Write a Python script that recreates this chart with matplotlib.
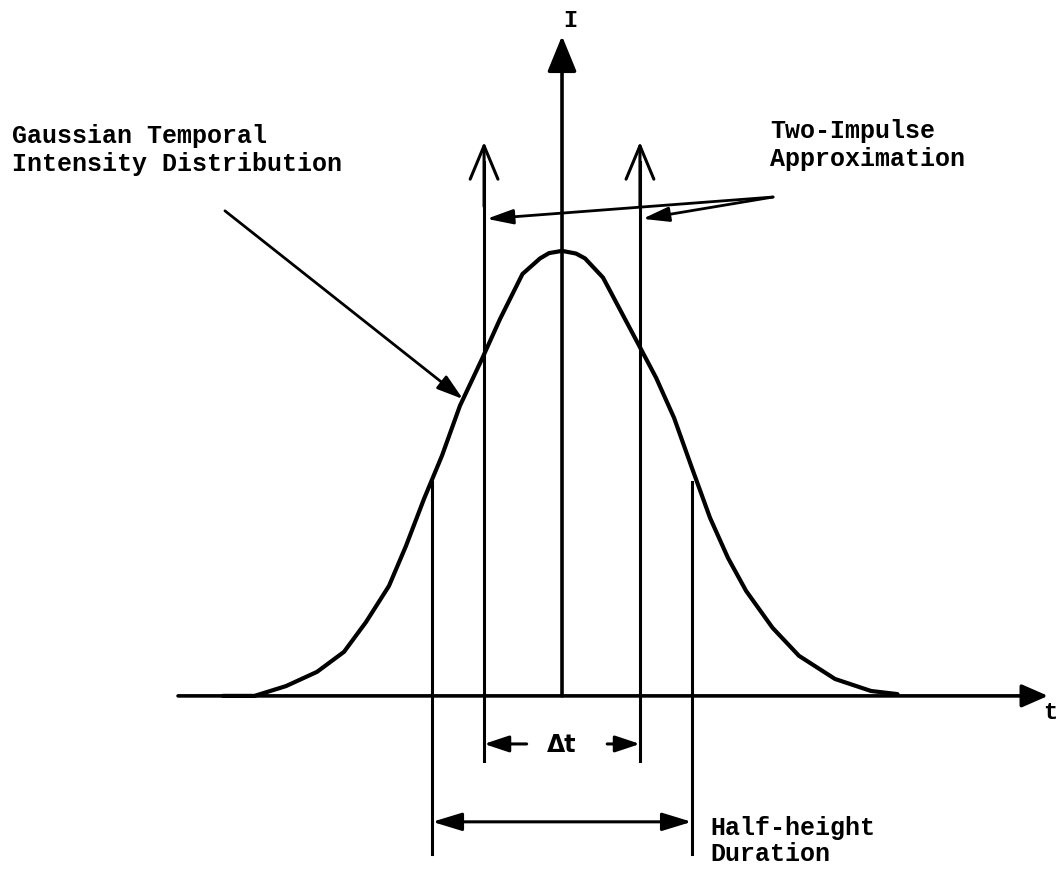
"""
Gaussian pulse and its two-impulse approximation (schematic)
"""
import matplotlib.pyplot as plt

# intensity curve: t in half-height units, I relative to peak
t_curve = [-2.59, -2.347, -2.107, -1.870, -1.664, -1.496, -1.321, -1.191,
           -1.053, -0.916, -0.779, -0.611, -0.473, -0.302, -0.168, -0.099,
           0.0, 0.107, 0.176, 0.313, 0.585, 0.718, 0.855, 0.992, 1.130,
           1.267, 1.405, 1.607, 1.809, 2.084, 2.359, 2.561]
i_curve = [0.0, 0.0, 0.022, 0.054, 0.099, 0.166, 0.247, 0.337,
           0.443, 0.540, 0.652, 0.757, 0.847, 0.948, 0.983, 0.995,
           1.0, 0.994, 0.983, 0.940, 0.789, 0.715, 0.625, 0.512, 0.400,
           0.310, 0.236, 0.153, 0.090, 0.038, 0.011, 0.004]

t_impulse = [-0.595, 0.595]  # the two impulses
t_half = [-0.99, 0.99]       # half-height points
i_half = 0.48

FONT = ["Liberation Mono", "DejaVu Sans Mono"]


def arrow(ax, start, end, style, lw=2.2):
    ax.annotate("", xy=end, xytext=start,
                arrowprops=dict(arrowstyle=style, lw=lw, color="black",
                                shrinkA=0, shrinkB=0, mutation_scale=10))


fig = plt.figure(figsize=(10.58, 8.70), dpi=100)
ax = fig.add_axes([0, 0, 1, 1])
ax.set_xlim(-4.290, 3.786)
ax.set_ylim(-0.389, 1.566)
ax.axis("off")

# axes of the sketch
arrow(ax, (-2.931, 0), (3.710, 0), "-|>,head_length=1.6,head_width=0.7", lw=2.6)
arrow(ax, (0, 0), (0, 1.483), "-|>,head_length=2.2,head_width=0.9", lw=2.6)

# gaussian
ax.plot(t_curve, i_curve, color="black", lw=3.0, solid_joinstyle="round",
        solid_capstyle="round")

# impulses
for t in t_impulse:
    ax.plot([t, t], [-0.146, 1.20], color="black", lw=2.2)
    arrow(ax, (t, 1.10), (t, 1.245), "->,head_length=2.4,head_width=1.0", lw=2.2)

# half-height lines
for t in t_half:
    ax.plot([t, t], [-0.355, i_half], color="black", lw=2.2)

# dimension: delta t
arrow(ax, (-0.27, -0.108), (t_impulse[0], -0.108),
      "-|>,head_length=1.5,head_width=0.5", lw=2.2)
arrow(ax, (0.345, -0.108), (t_impulse[1], -0.108),
      "-|>,head_length=1.5,head_width=0.5", lw=2.2)
ax.text(0.0, -0.108, "\u0394t", ha="center", va="center", fontsize=17,
        family=["DejaVu Sans", "Liberation Sans"], fontweight="bold")

# dimension: half-height duration
arrow(ax, (t_half[0], -0.283), (t_half[1], -0.283),
      "<|-|>,head_length=1.8,head_width=0.55", lw=2.2)

# pointers
arrow(ax, (-2.573, 1.090), (-0.756, 0.667),
      "-|>,head_length=1.6,head_width=0.5", lw=2.0)
arrow(ax, (1.611, 1.121), (t_impulse[0] + 0.02, 1.072),
      "-|>,head_length=1.6,head_width=0.45", lw=2.0)
arrow(ax, (1.611, 1.121), (t_impulse[1] + 0.02, 1.072),
      "-|>,head_length=1.6,head_width=0.45", lw=2.0)

# labels
ax.text(0.061, 1.521, "I", ha="center", va="center", fontsize=17,
        family=FONT, fontweight="bold")
ax.text(3.779, -0.036, "t", ha="right", va="center", fontsize=17,
        family=FONT, fontweight="bold")
ax.text(-4.198, 1.229, "Gaussian Temporal\nIntensity Distribution",
        ha="left", va="center", fontsize=18, family=FONT, fontweight="bold",
        linespacing=1.2)
ax.text(1.588, 1.240, "Two-Impulse\nApproximation", ha="left", va="center",
        fontsize=18, family=FONT, fontweight="bold", linespacing=1.2)
ax.text(1.130, -0.324, "Half-height\nDuration", ha="left", va="center",
        fontsize=18, family=FONT, fontweight="bold", linespacing=1.15)

fig.savefig("out.png", dpi=100, facecolor="white")
